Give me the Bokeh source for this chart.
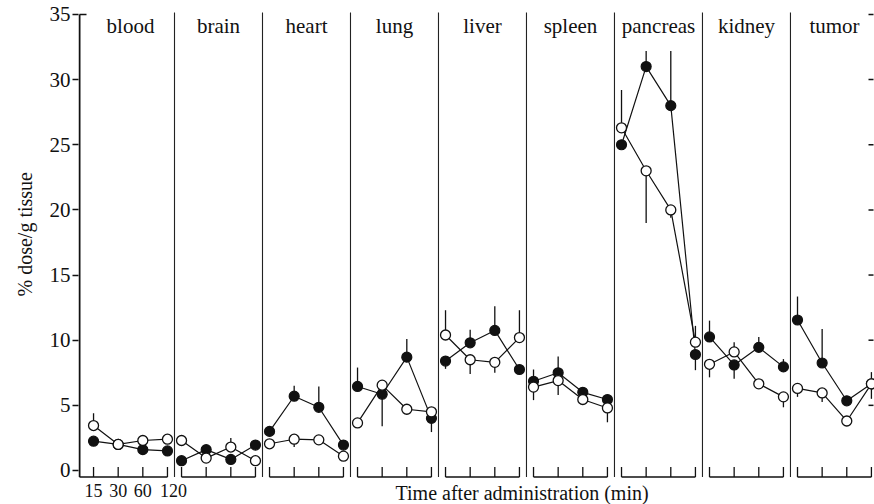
from bokeh.plotting import figure
from bokeh.models import Range1d, FixedTicker, ColumnDataSource, Title
from bokeh.core.properties import value
from bokeh.embed import file_html
from bokeh.resources import INLINE

# ---------------- data ----------------
tissues = ["blood", "brain", "heart", "lung", "liver", "spleen", "pancreas", "kidney", "tumor"]
time_labels = ["15", "30", "60", "120"]
y_ticks = [0, 5, 10, 15, 20, 25, 30, 35]

# % dose/g tissue, 4 time points per tissue (open circles)
open_pct = [3.45, 2.0, 2.3, 2.4,
            2.3, 0.95, 1.8, 0.75,
            2.05, 2.4, 2.35, 1.1,
            3.65, 6.55, 4.7, 4.5,
            10.4, 8.5, 8.3, 10.2,
            6.4, 6.9, 5.45, 4.8,
            26.3, 23.0, 20.0, 9.85,
            8.15, 9.1, 6.65, 5.65,
            6.3, 5.95, 3.8, 6.65]
# filled circles
filled_pct = [2.25, 2.0, 1.6, 1.5,
              0.75, 1.6, 0.85, 1.95,
              3.0, 5.7, 4.85, 1.95,
              6.45, 5.85, 8.7, 4.0,
              8.4, 9.8, 10.75, 7.75,
              6.85, 7.5, 6.0, 5.45,
              25.0, 31.0, 28.0, 8.9,
              10.25, 8.1, 9.45, 7.95,
              11.55, 8.25, 5.35, 6.65]
# end of the (one-sided) error bar, None = no visible bar
open_err_tip = [4.4, None, None, None,
                None, None, 2.5, None,
                None, 1.8, None, None,
                None, None, None, None,
                12.3, 7.4, 7.5, 12.3,
                5.4, 5.8, None, 3.7,
                29.2, 19.0, 19.4, 11.1,
                7.15, 9.85, None, 4.85,
                5.65, 5.25, None, 7.55]
filled_err_tip = [None, None, None, None,
                  None, None, None, None,
                  None, 6.5, 6.45, None,
                  7.9, 3.4, 10.1, 2.95,
                  7.8, 10.8, 12.6, None,
                  7.75, 8.75, None, None,
                  None, 32.2, 32.2, 7.7,
                  11.5, 7.05, 10.25, 8.55,
                  13.35, 10.85, None, 5.5]

# ---------------- layout ----------------
W, H = 874, 504
LEFT = 78
XS, XE = -0.091, 8.955
YB, YT = -2.61, 36.07
PX_X = (W - LEFT) / (XE - XS)
PX_Y = H / (YT - YB)
T0, TSTEP = 0.08, 0.28
BASE = -0.5
DIV_TOP = 35.15
SERIF = "Liberation Serif"
INK = "#111111"

n_t = len(time_labels)
x_pos = [i + T0 + TSTEP * k for i in range(len(tissues)) for k in range(n_t)]

p = figure(width=W, height=H, x_range=Range1d(XS, XE), y_range=Range1d(YB, YT),
           output_backend="svg", toolbar_location=None, x_axis_location=None,
           min_border_left=LEFT, min_border_right=0, min_border_top=0, min_border_bottom=0)
p.xgrid.visible = False
p.ygrid.visible = False
p.outline_line_color = None
p.background_fill_color = "white"
p.border_fill_color = "white"

ax = p.yaxis[0]
ax.ticker = FixedTicker(ticks=y_ticks)
ax.axis_line_color = None
ax.major_tick_out = 6
ax.major_tick_in = 0
ax.minor_tick_out = 0
ax.minor_tick_in = 0
ax.major_tick_line_color = INK
ax.major_tick_line_width = 1.5
ax.major_label_standoff = 2
ax.major_label_text_font = SERIF
ax.major_label_text_font_size = "21px"
ax.major_label_text_color = INK

# y title as a side title, placed like the original (a little above centre)
p.add_layout(Title(text="% dose/g tissue", align="left", offset=208, standoff=22,
                   text_font=SERIF, text_font_size="20px", text_font_style="normal",
                   text_color=INK), "left")

# left axis line and the inner tick at the top
ax_x = XS + 1.0 / PX_X
p.segment(x0=[ax_x], y0=[BASE], x1=[ax_x], y1=[35], line_color=INK, line_width=2)
p.segment(x0=[ax_x], y0=[35], x1=[ax_x + 7 / PX_X], y1=[35], line_color=INK, line_width=1.5)

# right side tick marks
rt = [t for t in y_ticks if t > 0]
p.segment(x0=[XE - 6 / PX_X] * len(rt), y0=rt, x1=[XE - 1 / PX_X] * len(rt), y1=rt,
          line_color=INK, line_width=1.5)

# panel dividers
div = list(range(1, len(tissues)))
p.segment(x0=div, y0=[BASE] * len(div), x1=div, y1=[DIV_TOP] * len(div),
          line_color="#222222", line_width=1.1)

# time brackets at the bottom of each panel
bx0, bx1 = [], []
for i in range(len(tissues)):
    xs = x_pos[i * n_t:(i + 1) * n_t]
    bx0.append(ax_x if i == 0 else xs[0])
    bx1.append(xs[-1])
p.segment(x0=bx0, y0=[BASE] * len(bx0), x1=bx1, y1=[BASE] * len(bx1),
          line_color=INK, line_width=1.6)
tick_h = 10 / PX_Y
p.segment(x0=x_pos, y0=[BASE] * len(x_pos), x1=x_pos, y1=[BASE + tick_h] * len(x_pos),
          line_color=INK, line_width=1.3)

# error bars
def err_segments(vals, tips):
    x0, y0, y1 = [], [], []
    for x, v, t in zip(x_pos, vals, tips):
        if t is not None:
            x0.append(x); y0.append(v); y1.append(t)
    return x0, y0, y1

for vals, tips in ((filled_pct, filled_err_tip), (open_pct, open_err_tip)):
    ex, ey0, ey1 = err_segments(vals, tips)
    p.segment(x0=ex, y0=ey0, x1=ex, y1=ey1, line_color=INK, line_width=1.3)

# connecting lines, one polyline per panel
def panel_lines(vals):
    xs = [x_pos[i * n_t:(i + 1) * n_t] for i in range(len(tissues))]
    ys = [vals[i * n_t:(i + 1) * n_t] for i in range(len(tissues))]
    return xs, ys

for vals in (filled_pct, open_pct):
    xs, ys = panel_lines(vals)
    p.multi_line(xs=xs, ys=ys, line_color=INK, line_width=1.2)

p.scatter(x=x_pos, y=filled_pct, size=10, marker="circle",
          fill_color=INK, line_color=INK, line_width=1.2)
p.scatter(x=x_pos, y=open_pct, size=10, marker="circle",
          fill_color="white", line_color=INK, line_width=1.3)

# panel titles
p.text(x=[i + 0.5 for i in range(len(tissues))], y=[34.15] * len(tissues), text=tissues,
       text_font=value(SERIF), text_font_size="21px", text_align="center",
       text_baseline="middle", text_color=INK)

# time labels under the first panel, and the x title
tl_src = ColumnDataSource(dict(x=x_pos[:n_t], y=[-1.55] * n_t, text=time_labels,
                               dx=[0, 0, 0, 6]))
p.text(x="x", y="y", text="text", x_offset="dx", source=tl_src,
       text_font=value(SERIF), text_font_size="18px", text_align="center",
       text_baseline="middle", text_color=INK)
p.text(x=[4.95], y=[-1.7], text=["Time after administration (min)"],
       text_font=value(SERIF), text_font_size="20px", text_align="center",
       text_baseline="middle", text_color=INK)

open("out.html", "w").write(file_html(p, INLINE))
